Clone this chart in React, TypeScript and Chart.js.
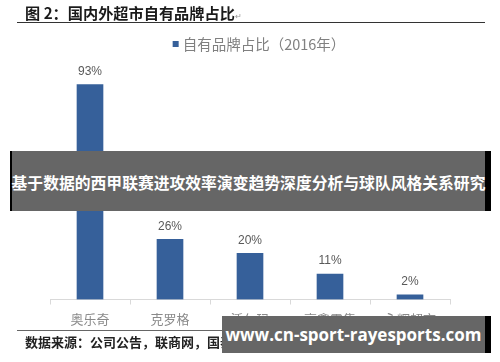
import React, { useEffect, useRef } from "react";
import { Chart, registerables } from "chart.js";

Chart.register(...registerables);

const categories = ["奥乐奇", "克罗格", "沃尔玛", "高鑫零售", "永辉超市"];
const shareValues = [93, 26, 20, 11, 2];
const seriesLabel = "自有品牌占比（2016年）";
const titleText = "图 2：国内外超市自有品牌占比";
const sourceText = "数据来源：公司公告，联商网，国泰君安证券研究";
const bannerText = "基于数据的西甲联赛进攻效率演变趋势深度分析与球队风格关系研究";
const watermarkText = "www.cn-sport-rayesports.com";

const BAR_COLOR = "#36609A";
const CJK = '"Noto Sans CJK SC", "Noto Sans", sans-serif';

const valueLabelPlugin = {
  id: "valueLabels",
  afterDatasetsDraw(chart: any) {
    const ctx = chart.ctx;
    const meta = chart.getDatasetMeta(0);
    const data = chart.data.datasets[0].data;
    ctx.save();
    ctx.fillStyle = "#595959";
    ctx.font = '12px "Liberation Sans", Arial, sans-serif';
    ctx.textAlign = "center";
    ctx.textBaseline = "bottom";
    meta.data.forEach((bar: any, i: number) => {
      ctx.fillText(`${data[i]}%`, bar.x, bar.y - 7);
    });
    ctx.restore();
  },
};

const customLegendPlugin = {
  id: "customLegend",
  afterDraw(chart: any) {
    const ctx = chart.ctx;
    const ds = chart.data.datasets[0];
    ctx.save();
    ctx.font = `14.5px ${CJK}`;
    const tw = ctx.measureText(ds.label).width;
    const box = 6;
    const gap = 4;
    const total = box + gap + tw;
    const cx = 259;
    const y = 44;
    const x0 = cx - total / 2;
    ctx.fillStyle = ds.backgroundColor;
    ctx.fillRect(x0, y - box / 2, box, box);
    ctx.fillStyle = "#808080";
    ctx.textAlign = "left";
    ctx.textBaseline = "middle";
    ctx.fillText(ds.label, x0 + box + gap, y + 0.5);
    ctx.restore();
  },
};

function BarChart() {
  const ref = useRef<HTMLCanvasElement | null>(null);
  useEffect(() => {
    if (!ref.current) return;
    const chart = new Chart(ref.current, {
      type: "bar",
      data: {
        labels: categories,
        datasets: [
          {
            label: seriesLabel,
            data: shareValues,
            backgroundColor: BAR_COLOR,
            borderWidth: 0,
            barThickness: 26,
          },
        ],
      },
      options: {
        animation: false,
        responsive: false,
        maintainAspectRatio: false,
        layout: { padding: { left: 50, right: 50, top: 68.5, bottom: 0 } },
        plugins: {
          legend: { display: false },
          title: { display: false },
          tooltip: { enabled: false },
        },
        scales: {
          x: {
            grid: {
              offset: true,
              drawOnChartArea: false,
              tickLength: 5,
              color: "#d9d9d9",
            },
            border: { color: "#d9d9d9" },
            ticks: {
              color: "#8a8a8a",
              font: { family: CJK, size: 13 },
              padding: 7,
            },
            afterFit: (s: any) => {
              s.height = 62.5;
            },
          },
          y: { display: false, min: 0, max: 100 },
        },
      },
      plugins: [valueLabelPlugin, customLegendPlugin],
    } as any);
    return () => chart.destroy();
  }, []);
  return (
    <canvas
      ref={ref}
      width={500}
      height={362}
      style={{ position: "absolute", left: 0, top: 0, width: 500, height: 362 }}
    />
  );
}

export default function App() {
  return (
    <div
      style={{
        position: "fixed",
        left: 0,
        top: 0,
        width: 500,
        height: 362,
        background: "#fff",
        overflow: "hidden",
      }}
    >
      <BarChart />
      <div
        style={{
          position: "absolute",
          left: 25,
          top: 3,
          fontFamily: CJK,
          fontWeight: 700,
          fontSize: 15.2,
          lineHeight: "18px",
          color: "#1a1a1a",
          whiteSpace: "nowrap",
        }}
      >
        {titleText}
        <span style={{ fontSize: 8, color: "#999", fontWeight: 400 }}>↵</span>
      </div>
      <div
        style={{
          position: "absolute",
          left: 17,
          top: 21.5,
          width: 468,
          height: 1.5,
          background: "#333",
        }}
      />
      <div
        style={{
          position: "absolute",
          left: 17,
          top: 330,
          width: 468,
          height: 1,
          background: "#666",
        }}
      />
      <div
        style={{
          position: "absolute",
          left: 25,
          top: 334,
          fontFamily: CJK,
          fontWeight: 700,
          fontSize: 13,
          lineHeight: "16px",
          color: "#222",
          whiteSpace: "nowrap",
        }}
      >
        {sourceText}
        <span style={{ fontSize: 8, color: "#999", fontWeight: 400 }}>↵</span>
      </div>
      {/* overlay banner */}
      <div
        style={{
          position: "absolute",
          left: 10,
          top: 151,
          width: 481,
          height: 60,
          background: "#000",
        }}
      />
      <div
        style={{
          position: "absolute",
          left: 12,
          top: 151,
          width: 473,
          height: 60,
          background: "#666",
          display: "flex",
          alignItems: "center",
          justifyContent: "center",
          color: "#fff",
          fontFamily: CJK,
          fontWeight: 700,
          fontSize: 15.8,
          whiteSpace: "nowrap",
        }}
      >
        <span style={{ position: "relative", top: 1 }}>{bannerText}</span>
      </div>
      {/* watermark */}
      <div
        style={{
          position: "absolute",
          left: 222,
          top: 316,
          width: 269,
          height: 37,
          background: "#000",
        }}
      />
      <div
        style={{
          position: "absolute",
          left: 222,
          top: 316,
          width: 263,
          height: 37,
          background: "#666",
          display: "flex",
          alignItems: "center",
          justifyContent: "center",
          color: "#fff",
          fontFamily: '"Open Sans", "DejaVu Sans", sans-serif',
          fontWeight: 700,
          fontSize: 17,
          whiteSpace: "nowrap",
        }}
      >
        {watermarkText}
      </div>
    </div>
  );
}
